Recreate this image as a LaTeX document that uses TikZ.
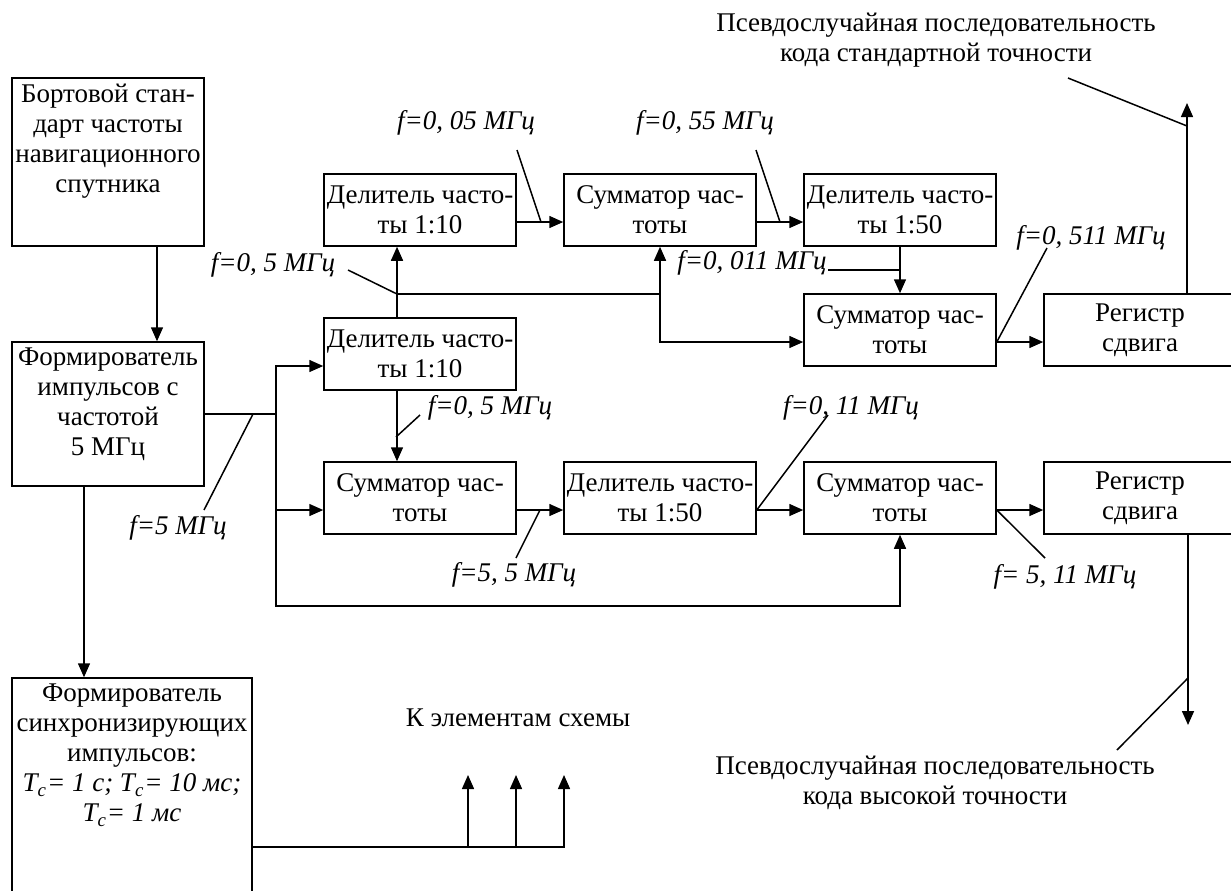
\documentclass[tikz,border=0pt]{standalone}
\usepackage{fontspec}
\setmainfont{Liberation Serif}
\usetikzlibrary{arrows.meta, positioning}

\begin{document}
\begin{tikzpicture}[x=0.5pt, y=-0.5pt, line width=0.75pt,
  font=\fontsize{13.5}{15}\selectfont,
  blk/.style={draw, rectangle, minimum width=96pt, minimum height=36pt, inner sep=0pt, align=center},
  txt/.style={inner sep=0pt, align=center},
  lbl/.style={inner sep=0pt, font=\fontsize{13.5}{15}\selectfont\itshape},
  arr/.style={-{Triangle[length=7pt,width=6pt]}}]
\clip (0,0) rectangle (1231,890);

% tall blocks on the left
\node[blk, minimum height=84pt] (bort) at (108,162) {};
\node[txt, anchor=north] (bortT) at ([yshift=-3pt]bort.north) {Бортовой стан-\\дарт частоты\\навигационного\\спутника};
\node[blk, minimum height=72pt] (form) at (108,414) {};
\node[txt, anchor=north] (formT) at ([yshift=-3pt]form.north) {Формирователь\\импульсов с\\частотой\\5 МГц};
\node[blk, minimum width=120pt, minimum height=120pt] (sync) at (132,798) {};
\node[txt, anchor=north] (syncT) at ([yshift=-3pt]sync.north) {Формирователь\\синхронизирующих\\импульсов:\\\textit{T\textsubscript{c}= 1 с; T\textsubscript{c}= 10 мс;}\\\textit{T\textsubscript{c}= 1 мс}};

% dividers, adders, registers
\node[blk] (div1) at (420,210) {Делитель часто-\\ты 1:10};
\node[blk] (sum1) at (660,210) {Сумматор час-\\тоты};
\node[blk] (div2) at (900,210) {Делитель часто-\\ты 1:50};
\node[blk] (sum2) at (900,330) {Сумматор час-\\тоты};
\node[blk] (reg1) at (1140,330) {Регистр\\сдвига};
\node[blk] (div3) at (420,354) {Делитель часто-\\ты 1:10};
\node[blk] (sum3) at (420,498) {Сумматор час-\\тоты};
\node[blk] (div4) at (660,498) {Делитель часто-\\ты 1:50};
\node[blk] (sum4) at (900,498) {Сумматор час-\\тоты};
\node[blk] (reg2) at (1140,498) {Регистр\\сдвига};

\node[txt] (outSt) at (936,40) {Псевдослучайная последовательность\\кода стандартной точности};
\node[txt] (outHi) at (935,783) {Псевдослучайная последовательность\\кода высокой точности};
\node[txt] (toEl) at (518,718) {К элементам схемы};

% frequencies
\node[lbl] (fA) at (273,265) {f=0, 5 МГц};
\node[lbl] (fB) at (466,123) {f=0, 05 МГц};
\node[lbl] (fC) at (705,123) {f=0, 55 МГц};
\node[lbl] (fD) at (752,263) {f=0, 011 МГц};
\node[lbl] (fE) at (1091,238) {f=0, 511 МГц};
\node[lbl] (fF) at (490,408) {f=0, 5 МГц};
\node[lbl] (fG) at (178,528) {f=5 МГц};
\node[lbl] (fH) at (514,575) {f=5, 5 МГц};
\node[lbl] (fI) at (851,408) {f=0, 11 МГц};
\node[lbl] (fJ) at (1065,577) {f= 5, 11 МГц};

\coordinate (j1) at (397,294);
\coordinate (j2) at (660,294);
\coordinate (fx) at (276,414);
\coordinate (fb) at (276,606);
\coordinate (up1) at (1187,103);
\coordinate (dn2) at (1188,725);
\coordinate (sb) at ([yshift=-24.5pt]sync.east);
\coordinate (k1) at (468,775);
\coordinate (k2) at (516,775);
\coordinate (k3) at (564,775);

\draw[arr] ([xshift=24.5pt]bort.south) -- ([xshift=24.5pt]form.north);
\draw (form.east) -- (fx);
\draw[arr] (fx) |- ([yshift=-6pt]div3.west);
\draw[arr] (fx) |- ([yshift=-6pt]sum3.west);
\draw[arr] (fx) -- (fb) -| (sum4.south);
\draw[arr] ([xshift=-11.5pt]div3.north) -- ([xshift=-11.5pt]div1.south);
\draw[arr] ([xshift=-11.5pt]div3.south) -- ([xshift=-11.5pt]sum3.north);
\draw (j1) -- (j2);
\draw[arr] (j2) -- (sum1.south);
\draw[arr] (j2) |- ([yshift=-6pt]sum2.west);
\draw[arr] ([yshift=-6pt]div1.east) -- ([yshift=-6pt]sum1.west);
\draw[arr] ([yshift=-6pt]sum1.east) -- ([yshift=-6pt]div2.west);
\draw[arr] (div2.south) -- (sum2.north);
\draw[arr] ([yshift=-6pt]sum2.east) -- ([yshift=-6pt]reg1.west);
\draw[arr] ([xshift=23.5pt]reg1.north) -- (up1);
\draw[arr] ([yshift=-6pt]sum3.east) -- ([yshift=-6pt]div4.west);
\draw[arr] ([yshift=-6pt]div4.east) -- ([yshift=-6pt]sum4.west);
\draw[arr] ([yshift=-6pt]sum4.east) -- ([yshift=-6pt]reg2.west);
\draw[arr] ([xshift=24pt]reg2.south) -- (dn2);
\draw[arr] ([xshift=-12pt]form.south) -- ([xshift=-12pt]form.south |- sync.north);
\draw[arr] (sb) -| (k3);
\draw[arr] (sb -| k1) -- (k1);
\draw[arr] (sb -| k2) -- (k2);

% leaders
\draw (348,270) -- (j1);
\draw (517,150) -- (541,222);
\draw (756,150) -- (780,222);
\draw (828,270) -- (900,270);
\draw (1047,248) -- ([yshift=-6pt]sum2.east);
\draw (420,415) -- (396,437);
\draw (204,510) -- (253,414);
\draw (516,558) -- (540,510);
\draw (828,415) -- ([yshift=-6pt]div4.east);
\draw ([yshift=-6pt]sum4.east) -- (1045,558);
\draw (1068,78) -- (1187,126);
\draw (1117,750) -- (1188,678);
\end{tikzpicture}
\end{document}
